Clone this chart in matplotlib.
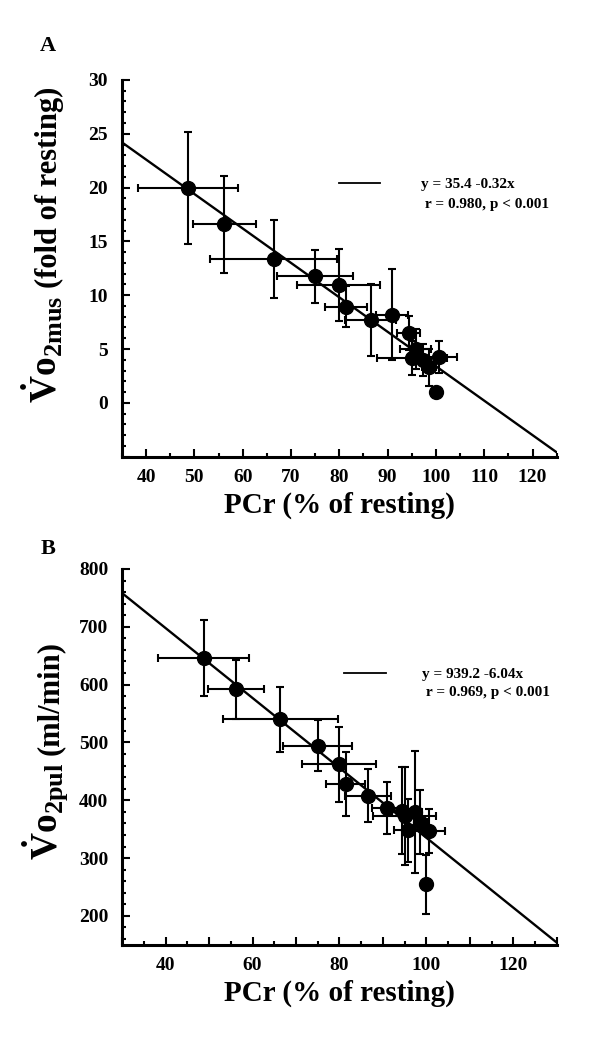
import numpy as np
import matplotlib
matplotlib.use("Agg")
import matplotlib.pyplot as plt
from matplotlib.ticker import MultipleLocator, FuncFormatter

plt.rcParams['font.family'] = ['Liberation Serif', 'DejaVu Serif']
plt.rcParams['font.weight'] = 'bold'
plt.rcParams['mathtext.fontset'] = 'custom'
plt.rcParams['mathtext.rm'] = 'Liberation Serif:bold'
plt.rcParams['mathtext.bf'] = 'Liberation Serif:bold'
plt.rcParams['mathtext.it'] = 'Liberation Serif:bold'

# PCr (% of resting), shared by both panels
pcr = [48.7, 56.2, 66.4, 75.0, 79.9, 81.4, 86.5, 90.9, 94.4, 95.8, 95.0, 97.4, 98.6, 100.6, 100.0]
pcr_err = [10.4, 6.5, 13.2, 7.9, 8.6, 4.4, 5.3, 3.4, 2.4, 3.2, 7.2, 1.5, 1.5, 3.8, 0.0]

# panel A: muscle VO2 (fold of resting)
vo2mus = [20.0, 16.6, 13.35, 11.75, 10.95, 8.95, 7.7, 8.2, 6.48, 5.0, 4.15, 4.0, 3.3, 4.25, 1.05]
vo2mus_err = [5.2, 4.5, 3.65, 2.45, 3.35, 1.95, 3.37, 4.2, 1.6, 1.9, 1.6, 1.5, 1.7, 1.5, 0.0]
fit_a = (35.4, -0.32)
txt_a = ["y = 35.4 -0.32x", " r = 0.980, p < 0.001"]

# panel B: pulmonary VO2 (ml/min)
vo2pul = [646, 592, 540, 494, 462, 428, 408, 386, 382, 348, 373, 380, 362, 347, 255]
vo2pul_err = [65, 51, 56, 44, 65, 55, 46, 45, 75, 55, 85, 105, 55, 38, 51]
fit_b = (939.2, -6.04)
txt_b = ["y = 939.2 -6.04x", " r = 0.969, p < 0.001"]

fig = plt.figure(figsize=(6, 10.44), dpi=100)
ax1 = fig.add_axes([0.2033, 0.5626, 0.7245, 0.3608])
ax2 = fig.add_axes([0.2038, 0.095, 0.724, 0.360])


def draw(ax, y, yerr, fit, txt, xlim, ylim, seg_x, txt_x, txt_y):
    ax.errorbar(pcr, y, xerr=pcr_err, yerr=yerr, fmt='o', color='black',
                ms=10, elinewidth=1.5, capsize=3, capthick=1.5, zorder=3)
    xs = np.array(xlim)
    ax.plot(xs, fit[0] + fit[1] * xs, color='black', lw=1.7, zorder=2)
    ax.set_xlim(xlim)
    ax.set_ylim(ylim)
    ax.plot(seg_x, [txt_y[0] + 0.003, txt_y[0] + 0.003], color='black', lw=1.3,
            transform=ax.transAxes)
    ax.text(txt_x, txt_y[0], txt[0], transform=ax.transAxes, fontsize=11,
            fontweight='bold', va='center')
    ax.text(txt_x, txt_y[1], txt[1], transform=ax.transAxes, fontsize=11,
            fontweight='bold', va='center')
    for s in ['top', 'right']:
        ax.spines[s].set_visible(False)
    for s in ['left', 'bottom']:
        ax.spines[s].set_linewidth(2.2)
    ax.tick_params(which='major', direction='in', length=6, width=1.5,
                   labelsize=14, pad=9)
    ax.tick_params(which='minor', direction='in', length=3, width=1.5)
    ax.tick_params(axis='y', which='both', pad=10)
    for lab in ax.get_xticklabels() + ax.get_yticklabels():
        lab.set_fontweight('bold')


def ylabel(sym, unit, y0_px):
    # symbol part drawn larger, unit part after it, both rotated
    x = 57.5 / 600
    t1 = fig.text(x, 1 - y0_px / 1044, sym, rotation=90, rotation_mode='anchor',
                  ha='left', va='baseline', fontsize=27)
    fig.canvas.draw()
    bb = t1.get_window_extent()
    top = (bb.y1 + 8) / fig.bbox.height
    fig.text(x, top, unit, rotation=90, rotation_mode='anchor',
             ha='left', va='baseline', fontsize=22)


draw(ax1, vo2mus, vo2mus_err, fit_a, txt_a, (35, 125), (-5, 30),
     [0.4985, 0.594], 0.687, [0.7227, 0.6703])
ax1.xaxis.set_major_locator(MultipleLocator(10))
ax1.xaxis.set_minor_locator(MultipleLocator(5))
ax1.yaxis.set_major_locator(MultipleLocator(5))
ax1.yaxis.set_minor_locator(MultipleLocator(1))
ax1.xaxis.set_major_formatter(FuncFormatter(lambda v, p: '%d' % v if v >= 40 else ''))
ax1.yaxis.set_major_formatter(FuncFormatter(lambda v, p: '%d' % v if v >= 0 else ''))
ax1.set_xlabel('PCr (% of resting)', fontsize=21, fontweight='bold', labelpad=4)

draw(ax2, vo2pul, vo2pul_err, fit_b, txt_b, (30, 130), (150, 800),
     [0.5095, 0.6062], 0.69, [0.7197, 0.671])
ax2.xaxis.set_major_locator(MultipleLocator(10))
ax2.xaxis.set_minor_locator(MultipleLocator(5))
ax2.yaxis.set_major_locator(MultipleLocator(100))
ax2.yaxis.set_minor_locator(MultipleLocator(20))
ax2.xaxis.set_major_formatter(FuncFormatter(lambda v, p: '%d' % v if (v % 20 == 0 and 40 <= v <= 120) else ''))
ax2.yaxis.set_major_formatter(FuncFormatter(lambda v, p: '%d' % v if v >= 200 else ''))
ax2.set_xlabel('PCr (% of resting)', fontsize=21, fontweight='bold', labelpad=4)

ylabel(r'$\dot{\mathrm{V}}\mathrm{o}_{\mathrm{2mus}}$', '(fold of resting)', 403)
ylabel(r'$\dot{\mathrm{V}}\mathrm{o}_{\mathrm{2pul}}$', '(ml/min)', 860)

fig.text(0.067, 0.956, 'A', fontsize=16, fontweight='bold', va='center')
fig.text(0.067, 0.474, 'B', fontsize=16, fontweight='bold', va='center')

fig.savefig('out.png', dpi=100)
